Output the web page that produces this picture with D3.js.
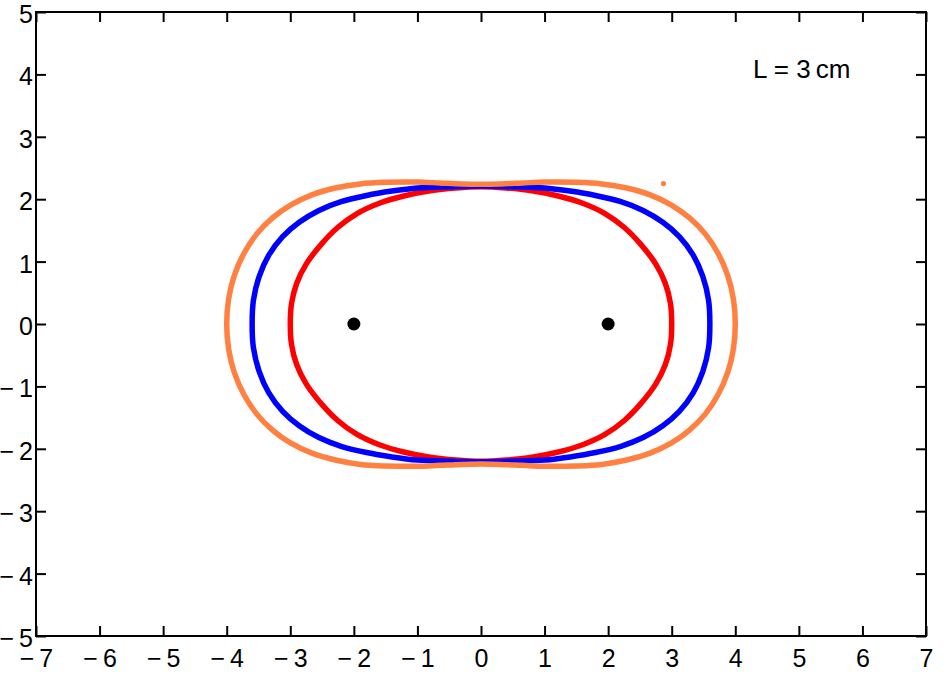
<!DOCTYPE html>
<html>
<head>
<meta charset="utf-8">
<script src="https://cdn.jsdelivr.net/npm/d3@7"></script>
<style>
  html, body { margin: 0; padding: 0; background: #fff; }
  svg { display: block; }
  text { font-family: "Liberation Sans", Arial, sans-serif; }
</style>
</head>
<body>
<svg id="chart" width="946" height="681"></svg>
<script>
// ---- data ----
const xTicks = [-7, -6, -5, -4, -3, -2, -1, 0, 1, 2, 3, 4, 5, 6, 7];
const yTicks = [-5, -4, -3, -2, -1, 0, 1, 2, 3, 4, 5];
const annotation = "L = 3\u2009cm";

// closed curves: left end -> over the top -> right end -> under the bottom
const redCurve = [
  [-3.0, 0], [-2.98, 0.33], [-2.90, 0.65], [-2.75, 0.96], [-2.51, 1.28], [-2.25, 1.55],
  [-1.95, 1.77], [-1.6, 1.935], [-1.2, 2.055], [-0.8, 2.135], [-0.4, 2.18], [0, 2.2],
  [0.4, 2.18], [0.8, 2.135], [1.2, 2.055], [1.6, 1.935], [1.95, 1.77], [2.25, 1.55],
  [2.51, 1.28], [2.75, 0.96], [2.90, 0.65], [2.98, 0.33], [3.0, 0],
  [2.98, -0.33], [2.90, -0.65], [2.75, -0.96], [2.51, -1.28], [2.25, -1.55], [1.95, -1.77],
  [1.6, -1.935], [1.2, -2.055], [0.8, -2.135], [0.4, -2.18], [0, -2.2],
  [-0.4, -2.18], [-0.8, -2.135], [-1.2, -2.055], [-1.6, -1.935], [-1.95, -1.77], [-2.25, -1.55],
  [-2.51, -1.28], [-2.75, -0.96], [-2.90, -0.65], [-2.98, -0.33]
];
const blueCurve = [
  [-3.6, 0], [-3.58, 0.38], [-3.49, 0.76], [-3.34, 1.10], [-3.12, 1.40], [-2.86, 1.63],
  [-2.55, 1.82], [-2.2, 1.96], [-1.8, 2.06], [-1.4, 2.13], [-1.0, 2.18], [-0.5, 2.2],
  [0, 2.21], [0.5, 2.2], [1.0, 2.18], [1.4, 2.13], [1.8, 2.06], [2.2, 1.96],
  [2.55, 1.82], [2.86, 1.63], [3.12, 1.40], [3.34, 1.10], [3.49, 0.76], [3.58, 0.38],
  [3.6, 0],
  [3.58, -0.38], [3.49, -0.76], [3.34, -1.10], [3.12, -1.40], [2.86, -1.63], [2.55, -1.82],
  [2.2, -1.96], [1.8, -2.06], [1.4, -2.13], [1.0, -2.18], [0.5, -2.2], [0, -2.21],
  [-0.5, -2.2], [-1.0, -2.18], [-1.4, -2.13], [-1.8, -2.06], [-2.2, -1.96], [-2.55, -1.82],
  [-2.86, -1.63], [-3.12, -1.40], [-3.34, -1.10], [-3.49, -0.76], [-3.58, -0.38]
];
const orangeCurve = [
  [-4.0, 0], [-3.97, 0.4], [-3.88, 0.78], [-3.73, 1.13], [-3.53, 1.44], [-3.28, 1.70],
  [-2.99, 1.91], [-2.66, 2.07], [-2.29, 2.18], [-1.9, 2.245], [-1.5, 2.27], [-1.0, 2.275],
  [-0.65, 2.26], [-0.3, 2.245], [0, 2.24], [0.3, 2.245], [0.65, 2.26], [1.0, 2.275],
  [1.5, 2.27], [1.9, 2.245], [2.29, 2.18], [2.66, 2.07], [2.99, 1.91], [3.28, 1.70],
  [3.53, 1.44], [3.73, 1.13], [3.88, 0.78], [3.97, 0.4], [4.0, 0],
  [3.97, -0.4], [3.88, -0.78], [3.73, -1.13], [3.53, -1.44], [3.28, -1.70], [2.99, -1.91],
  [2.66, -2.07], [2.29, -2.18], [1.9, -2.25], [1.5, -2.275], [1.0, -2.28], [0.65, -2.265],
  [0.3, -2.25], [0, -2.245], [-0.3, -2.25], [-0.65, -2.265], [-1.0, -2.28], [-1.5, -2.275],
  [-1.9, -2.25], [-2.29, -2.18], [-2.66, -2.07], [-2.99, -1.91], [-3.28, -1.70],
  [-3.53, -1.44], [-3.73, -1.13], [-3.88, -0.78], [-3.97, -0.4]
];
const foci = [[-2, 0], [2, 0]];
const strayDots = [[2.87, 2.25]];

// ---- layout ----
const W = 946, H = 681;
const mLeft = 36, mRight = 926, mTop = 12, mBottom = 636;
const svg = d3.select("#chart");
svg.append("rect").attr("width", W).attr("height", H).attr("fill", "#fff");

const x = d3.scaleLinear().domain([-7, 7]).range([mLeft, mRight]);
const y = d3.scaleLinear().domain([-5, 5]).range([mBottom, mTop]);

const fmt = d => d < 0 ? "\u2212\u2009" + Math.abs(d) : String(d);

// curves
const line = d3.line().x(d => x(d[0])).y(d => y(d[1])).curve(d3.curveCatmullRomClosed.alpha(0.5));
const curves = [
  { pts: redCurve, color: "#ff0000" },
  { pts: blueCurve, color: "#0000ff" },
  { pts: orangeCurve, color: "#ff8040" }
];
svg.append("g").selectAll("path").data(curves).join("path")
  .attr("d", d => line(d.pts))
  .attr("fill", "none")
  .attr("stroke", d => d.color)
  .attr("stroke-width", 5.5);

svg.append("g").selectAll("circle").data(strayDots).join("circle")
  .attr("cx", d => x(d[0])).attr("cy", d => y(d[1])).attr("r", 2.6).attr("fill", "#ff8040");

svg.append("g").selectAll("circle").data(foci).join("circle")
  .attr("cx", d => x(d[0])).attr("cy", d => y(d[1])).attr("r", 6.5).attr("fill", "#000");

// axes (inward ticks on all four sides)
const fontSize = 25;
function styleAxis(g, showText) {
  g.select(".domain").remove();
  g.selectAll(".tick line").attr("stroke", "#000").attr("stroke-width", 2);
  g.selectAll(".tick text").attr("fill", "#000").style("font-size", fontSize + "px");
  if (!showText) g.selectAll(".tick text").remove();
}
svg.append("g").attr("transform", `translate(0,${mBottom})`)
  .call(d3.axisBottom(x).tickValues(xTicks).tickFormat(fmt).tickSize(-10).tickPadding(13))
  .call(g => styleAxis(g, true));
svg.append("g").attr("transform", `translate(0,${mTop})`)
  .call(d3.axisTop(x).tickValues(xTicks).tickSize(-10))
  .call(g => styleAxis(g, false));
svg.append("g").attr("transform", `translate(${mLeft},0)`)
  .call(d3.axisLeft(y).tickValues(yTicks).tickFormat(fmt).tickSize(-10).tickPadding(3))
  .call(g => styleAxis(g, true))
  .call(g => g.selectAll(".tick text").attr("dy", "0.42em"));
svg.append("g").attr("transform", `translate(${mRight},0)`)
  .call(d3.axisRight(y).tickValues(yTicks).tickSize(-10))
  .call(g => styleAxis(g, false));

// frame
svg.append("rect")
  .attr("x", mLeft).attr("y", mTop)
  .attr("width", mRight - mLeft).attr("height", mBottom - mTop)
  .attr("fill", "none").attr("stroke", "#000").attr("stroke-width", 2);

// annotation
svg.append("text")
  .attr("x", 753).attr("y", 78)
  .attr("fill", "#000")
  .style("font-size", "26px")
  .text(annotation);
</script>
</body>
</html>
